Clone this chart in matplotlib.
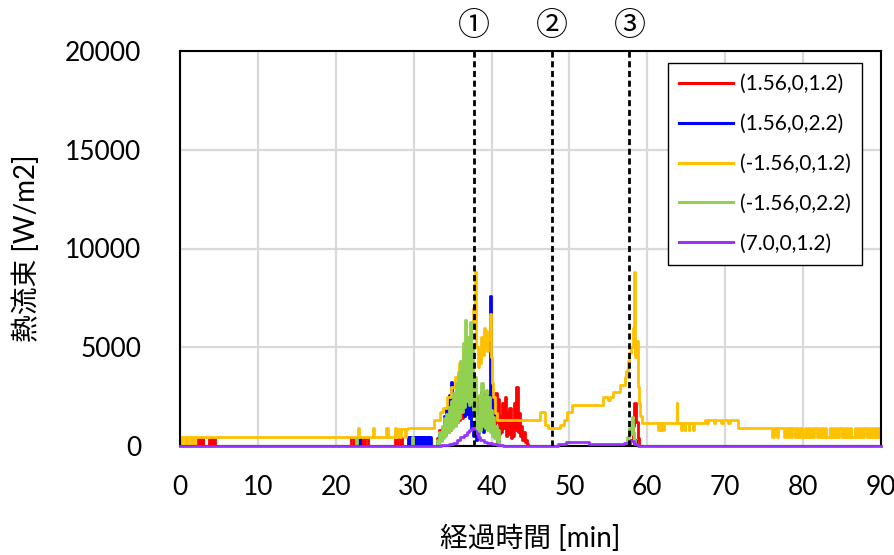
import numpy as np
import matplotlib
matplotlib.use("Agg")
import matplotlib.pyplot as plt

plt.rcParams['font.family'] = ['Lato', 'Noto Sans CJK JP', 'DejaVu Sans']

# logger interval used for the fast-sampled bursts [min]
STEP = 0.15

labels = ['(1.56,0,1.2)', '(1.56,0,2.2)', '(-1.56,0,1.2)', '(-1.56,0,2.2)', '(7.0,0,1.2)']
colors = ['#ff0000', '#0000ff', '#ffc000', '#92d050', '#9933ff']
events = [37.7, 47.7, 57.7]
event_marks = ['①', '②', '③']

# (1.56,0,1.2)
red_t = [0, 2.3, 2.4, 2.5, 2.6, 2.7, 2.8, 2.9, 3.0, 3.7, 3.85, 4.0, 4.15, 4.3, 4.45, 4.6,
         22.0, 22.3, 22.4, 22.7, 23.4, 23.6, 23.8, 24.1, 27.6, 27.8, 27.9, 28.3, 28.4, 28.5,
         44.85, 57.8, 58.1, 58.3, 58.55, 58.75, 58.95, 90.0]
red_v = [0, 400, 0, 400, 0, 400, 0, 400, 0, 400, 0, 400, 0, 400, 0, 0,
         420, 0, 420, 0, 420, 0, 420, 0, 400, 0, 400, 0, 400, 0,
         0, 300, 1000, 2200, 1200, 400, 0, 0]
red_peak = [400, 200, 800, 400, 900, 500, 1000, 600, 1220, 700, 1400, 800, 1700, 1000,
            1930, 1100, 2000, 1200, 2190, 1300, 2300, 1400, 2500, 1500, 2700, 1600, 2850,
            1700, 3100, 1800, 2000, 1500, 1700, 1300, 2500, 1400, 2300, 1600, 2750, 1500,
            2600, 1300, 2340, 1200, 2000, 900, 1800, 800, 2200, 1000, 2700, 1200, 2400,
            600, 1500, 700, 2190, 900, 2500, 500, 1700, 600, 1930, 400, 1200, 500, 2200,
            800, 3000, 700, 1680, 500, 1000, 300, 700, 200, 300, 100, 0]

# (1.56,0,2.2)
blue_t = [0, 22.7, 22.85, 22.95, 23.1, 32.2, 41.1, 58.3, 58.5, 90.0]
blue_v = [0, 400, 0, 400, 0, 0, 0, 300, 0, 0]
blue_block = [460, 0, 460, 100, 460, 0, 460, 200, 460, 0, 460, 0, 460, 300, 460, 0,
              460, 100, 460, 0, 460, 0, 460, 200, 460, 0, 460, 100, 460, 0]
blue_peak = [300, 100, 600, 300, 900, 500, 1500, 800, 1930, 1000, 2600, 1400, 3250, 1600,
             2400, 1300, 2700, 1500, 2800, 1600, 3100, 1700, 2900, 1500, 3050, 1600, 3000,
             1400, 2600, 900, 1200, 500, 600, 300, 1200, 600, 2000, 900, 1500, 700, 2200,
             1000, 1800, 900, 2600, 7580, 2700, 1200, 1800, 600, 800, 200, 300, 0]

# (-1.56,0,1.2)
yellow_t = [2.1, 22.8, 22.95, 24.8, 24.95, 26.5, 26.65, 27.6, 27.75, 28.0, 28.3, 28.4, 28.9,
            29.0, 29.3, 32.6, 33.0, 33.4, 33.8, 34.3, 34.8, 35.3, 35.8, 36.3, 36.8, 37.3,
            37.6, 37.85, 38.0, 38.2, 38.4, 38.55, 38.7, 38.85, 39.0, 39.15, 39.3, 39.45,
            39.6, 39.75, 39.9, 40.05, 40.2, 40.4, 40.7, 46.2, 46.9, 47.2, 48.8, 49.3, 49.7,
            50.3, 54.3, 55.0, 55.15, 55.6, 56.5, 57.1, 57.3, 57.5, 57.7, 57.9, 58.1, 58.3,
            58.45, 58.6, 58.75, 58.9, 59.1, 59.3, 61.4, 61.5, 61.7, 61.8, 62.0, 62.1, 63.75,
            63.85, 64.3, 64.4, 64.8, 64.9, 65.3, 65.4, 65.9, 66.0, 67.4, 67.6, 67.8, 68.5,
            68.7, 69.5, 69.7, 70.4, 70.6, 71.6, 76.0, 76.3, 76.6, 76.8]
yellow_v = [470, 900, 470, 900, 470, 900, 470, 900, 470, 870, 470, 870, 470,
            870, 916, 1320, 1320, 1700, 1930, 2500, 3000, 3500, 4200, 4800, 5500, 6000,
            7000, 8800, 5000, 4000, 4800, 4200, 5500, 4600, 6000, 5000, 5800, 4800,
            5400, 6700, 4500, 3200, 2500, 1680, 1320, 1730, 1070, 916, 1070, 1320, 1730,
            2090, 2500, 2350, 2500, 2750, 3100, 3500, 3800, 4300, 4700, 5000, 6000, 8800,
            4500, 5300, 3000, 2200, 1500, 1170, 810, 1170, 810, 1170, 810, 1170, 2190,
            1170, 810, 1170, 810, 1170, 810, 1170, 810, 1170, 1320, 1170, 1320, 1170,
            1320, 1170, 1320, 1170, 1320, 930, 460, 930, 460, 930]
yellow_start = [470, 0, 470, 470, 0, 470, 0, 470, 470, 0, 470, 470, 0, 470]
yellow_tail = [930, 460, 930, 460, 930, 460, 930, 930, 460, 930, 460, 930, 460, 460, 930, 460,
               930, 460, 930, 460, 930, 930, 460, 930, 460, 930, 460, 930, 460, 460, 930, 460,
               930, 460, 930, 460, 930, 930, 460, 930, 460, 930, 460, 930, 460, 460, 930, 460,
               930, 460, 930, 460, 930, 930, 460, 930, 460, 930, 460, 930, 460, 930, 460, 930]

# (-1.56,0,2.2)
green_t = [0, 22.6, 22.7, 29.8, 29.9, 41.25, 57.2, 57.4, 57.6, 57.8, 58.0, 58.15, 58.3,
           58.45, 90.0]
green_v = [0, 400, 0, 450, 0, 0, 200, 460, 900, 600, 1480, 700, 300, 0, 0]
green_peak = [300, 100, 700, 250, 1000, 400, 1400, 500, 1600, 700, 2000, 800, 2300, 900,
              2700, 1000, 3200, 1200, 3770, 1400, 4300, 1700, 5200, 2000, 6400, 2300, 5500,
              2100, 6260, 2200, 5040, 1800, 3500, 900, 1500, 600, 2600, 800, 3200, 1000,
              2500, 900, 2850, 800, 2500, 700, 1800, 500, 1480, 400, 1000, 200, 800, 100, 0]

# (7.0,0,1.2)
purple_t = [0, 33.5, 34.5, 35.0, 35.5, 36.0, 36.4, 36.8, 37.1, 37.5, 37.8, 37.95, 38.2,
            38.5, 39.0, 39.4, 40.0, 40.7, 41.5, 48.5, 49.5, 50.5, 51.5, 52.5, 54.0, 56.0,
            57.0, 57.8, 58.3, 58.8, 90.0]
purple_v = [0, 50, 100, 150, 300, 460, 550, 700, 800, 900, 780, 660, 450,
            300, 200, 150, 100, 50, 0, 100, 180, 200, 180, 120, 100, 120,
            150, 250, 100, 0, 0]


def build(sparse_t, sparse_v, bursts):
    # merge slow breakpoints with fast-sampled bursts (start, interval, values)
    t = list(sparse_t)
    v = list(sparse_v)
    for t0, dt, vals in bursts:
        t += list(t0 + dt * np.arange(len(vals)))
        v += list(vals)
    order = np.argsort(t, kind='stable')
    return np.array(t)[order], np.array(v)[order]


series = [
    build(red_t, red_v, [(33.0, STEP, red_peak)]),
    build(blue_t, blue_v, [(29.3, 0.1, blue_block), (33.0, STEP, blue_peak)]),
    build(yellow_t, yellow_v, [(0.0, STEP, yellow_start), (77.4, 0.2, yellow_tail)]),
    build(green_t, green_v, [(33.0, STEP, green_peak)]),
    build(purple_t, purple_v, []),
]

fig = plt.figure(figsize=(8.95, 5.55), dpi=100)
ax = fig.add_axes([180 / 895, 1 - 446 / 555, 701 / 895, 395 / 555])

for (t, v), lab, col in zip(series, labels, colors):
    top = col == '#9933ff'
    ax.plot(t, v, drawstyle='steps-post', color=col, lw=2.0, label=lab,
            zorder=3 if top else 2, clip_on=not top)

for x, mark in zip(events, event_marks):
    ax.axvline(x, color='black', lw=2.0, dashes=(2.2, 1.3), zorder=4)
    ax.text(x, 21250, mark, ha='center', va='center', fontsize=23,
            family=['Noto Sans CJK JP', 'DejaVu Sans'], clip_on=False)

ax.set_xlim(0, 90)
ax.set_ylim(0, 20000)
ax.set_xticks(range(0, 91, 10))
ax.set_yticks(range(0, 20001, 5000))
ax.tick_params(length=0, labelsize=19)
ax.tick_params(axis='y', pad=28)
ax.tick_params(axis='x', pad=21)
ax.grid(color='#d9d9d9', lw=1.6)
ax.set_axisbelow(True)
for s in ax.spines.values():
    s.set_color('black')
    s.set_linewidth(1.5)

ax.set_xlabel('経過時間 [min]', fontsize=20)
ax.set_ylabel('熱流束 [W/m2]', fontsize=20)
ax.xaxis.set_label_coords(0.5, -0.2)
ax.yaxis.set_label_coords(-0.2, 0.5)

leg = ax.legend(loc='upper right', bbox_to_anchor=(0.973, 0.97), fontsize=15,
                frameon=True, fancybox=False, framealpha=1, edgecolor='black',
                borderpad=0.55, labelspacing=0.95, handlelength=2.6, handletextpad=0.3,
                borderaxespad=0)
leg.get_frame().set_linewidth(1.0)
for h in leg.get_lines():
    h.set_linewidth(2.2)

fig.savefig('out.png', dpi=100)
